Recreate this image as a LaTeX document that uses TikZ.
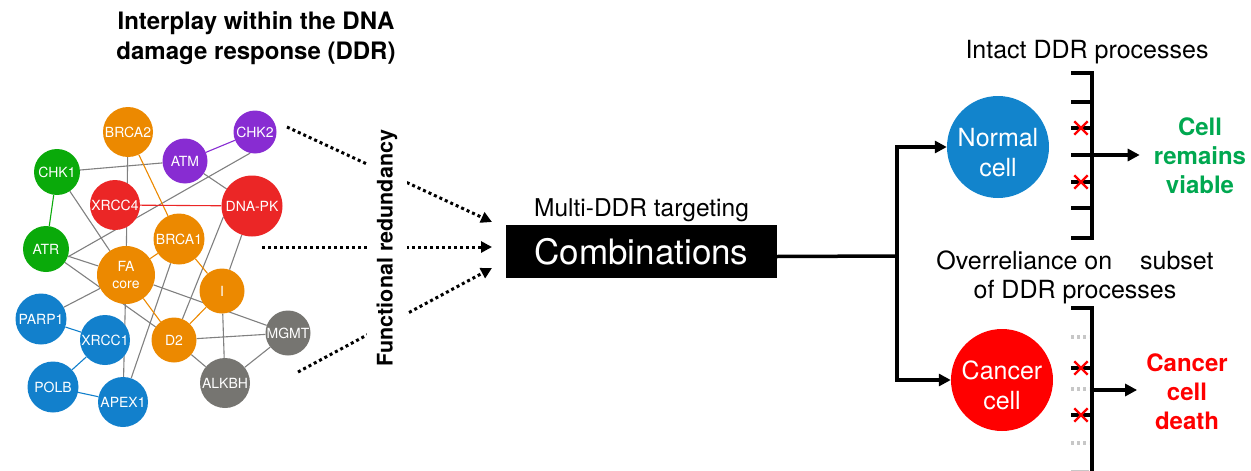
\documentclass[tikz,border=0pt]{standalone}
\usepackage{fontspec}
\setmainfont{TeX Gyre Heros}
\usetikzlibrary{positioning,arrows.meta,shapes.misc,backgrounds}

\definecolor{ddrorange}{RGB}{236,137,0}
\definecolor{ddrpurple}{RGB}{136,44,210}
\definecolor{ddrgreen}{RGB}{10,170,10}
\definecolor{ddrred}{RGB}{235,38,38}
\definecolor{ddrblue}{RGB}{18,128,204}
\definecolor{ddrgray}{RGB}{118,117,113}
\definecolor{cellblue}{RGB}{18,132,204}
\definecolor{viablegreen}{RGB}{0,168,80}

\tikzset{
  gene/.style={circle, fill=#1, text=white, inner sep=0pt, align=center,
    font=\fontsize{14}{16.5}\selectfont},
  link/.style={draw=black!50, line width=1.1pt},
  cell/.style={circle, fill=#1, text=white, inner sep=0pt, minimum size=102pt,
    align=center, text height=60pt, font=\fontsize{25}{30}\selectfont},
  big/.style={align=center, font=\fontsize{25}{29}\selectfont},
  outcome/.style={align=center, font=\fontsize{24}{29}\selectfont\bfseries},
  flow/.style={line width=3.5pt, line join=miter},
  flowarrow/.style={flow, -{Triangle[length=12pt,width=12pt]}},
  redarrow/.style={line width=3pt, dash pattern=on 3pt off 3pt,
    -{Triangle[length=11pt,width=11pt]}},
  skiptick/.style={line width=3.5pt, draw=black!22, dash pattern=on 3pt off 3pt},
  xmark/.style={cross out, draw=red, line width=2.4pt, minimum size=11pt, inner sep=0pt},
}

\begin{document}
\begin{tikzpicture}[x=1pt, y=-1pt]
  \useasboundingbox (0,0) rectangle (1251,471);

  % Title
  \node[font=\fontsize{24}{30}\selectfont\bfseries, align=center] (ttl) at (256,38)
    {Interplay within the DNA\\damage response (DDR)};

  % Nodes
  \node[gene=ddrorange, minimum size=50pt] (brca2) at (128,132) {BRCA2};
  \node[gene=ddrpurple, minimum size=43pt] (chk2) at (255,132) {CHK2};
  \node[gene=ddrpurple, minimum size=45pt] (atm) at (185,161) {ATM};
  \node[gene=ddrgreen, minimum size=46pt] (chk1) at (57,172) {CHK1};
  \node[gene=ddrred, minimum size=50pt] (xrcc4) at (115,205) {XRCC4};
  \node[gene=ddrred, minimum size=61pt] (dnapk) at (252,206) {DNA-PK};
  \node[gene=ddrgreen, minimum size=46pt] (atr) at (46,249) {ATR};
  \node[gene=ddrorange, minimum size=51pt] (brca1) at (179,239) {BRCA1};
  \node[gene=ddrorange, minimum size=58pt] (fa) at (126,275) {FA\\core};
  \node[gene=ddrorange, minimum size=45pt] (fi) at (222,291) {I};
  \node[gene=ddrblue, minimum size=51pt] (parp1) at (41,319) {PARP1};
  \node[gene=ddrblue, minimum size=50pt] (xrcc1) at (105,340) {XRCC1};
  \node[gene=ddrorange, minimum size=45pt] (d2) at (174,340) {D2};
  \node[gene=ddrgray, minimum size=45pt] (mgmt) at (288,333) {MGMT};
  \node[gene=ddrblue, minimum size=51pt] (polb) at (53,387) {POLB};
  \node[gene=ddrblue, minimum size=50pt] (apex1) at (123,402) {APEX1};
  \node[gene=ddrgray, minimum size=50pt] (alkbh) at (225,383) {ALKBH};

  % Edges
  \begin{scope}[on background layer]
    \draw[link] (chk1) -- (atm);
    \draw[link, draw=ddrgreen] (chk1) -- (atr);
    \draw[link] (chk1) -- (fa);
    \draw[link] (atr.-20) -- (chk2.-103);
    \draw[link] (atr) -- (fa);
    \draw[link] (atr) -- (d2);
    \draw[link] (brca2) -- (fa);
    \draw[link, draw=ddrorange] (brca2) -- (brca1);
    \draw[link, draw=ddrred] (xrcc4) -- (dnapk);
    \draw[link, draw=ddrpurple] (atm) -- (chk2);
    \draw[link] (atm) -- (dnapk);
    \draw[link] (dnapk.201) -- (d2);
    \draw[link] (dnapk) -- (fi);
    \draw[link, draw=ddrorange] (brca1) -- (fa);
    \draw[link, draw=ddrorange] (brca1) -- (fi);
    \draw[link] (brca1) -- (apex1);
    \draw[link] (fa) -- (mgmt);
    \draw[link, draw=ddrorange] (fa) -- (d2);
    \draw[link] (fa) -- (parp1);
    \draw[link] (fa) -- (apex1);
    \draw[link, draw=ddrorange] (fi) -- (d2);
    \draw[link] (fi) -- (alkbh);
    \draw[link] (d2) -- (mgmt);
    \draw[link] (d2) -- (alkbh);
    \draw[link] (mgmt) -- (alkbh);
    \draw[link, draw=ddrblue] (parp1) -- (xrcc1);
    \draw[link, draw=ddrblue] (xrcc1) -- (polb);
    \draw[link, draw=ddrblue] (polb) -- (apex1);
  \end{scope}

  % Combinations
  \node[fill=black, text=white, minimum width=271pt, minimum height=53pt, inner sep=0pt,
    font=\fontsize{35}{40}\selectfont] (comb) at (641.5,251.5) {Combinations};
  \node[above=0pt of comb, inner sep=2.5pt, font=\fontsize{24.5}{28}\selectfont] (multi)
    {Multi-DDR targeting};

  % Redundancy arrows
  \coordinate (a1) at (287,127);
  \coordinate (a2) at (262,247);
  \coordinate (a3) at (298,372);
  \coordinate (b1) at (492,222);
  \coordinate (b2) at (492,247);
  \coordinate (b3) at (492,268);
  \draw[redarrow] (a1) -- (b1);
  \draw[redarrow] (a2) -- (b2);
  \draw[redarrow] (a3) -- (b3);
  \node[rotate=90, fill=white, inner xsep=0pt, inner ysep=10pt,
    font=\fontsize{21.5}{24}\selectfont\bfseries] (fr) at (387,248) {Functional redundancy};

  % Cells
  \node[cell=cellblue] (normal) at (998,147) {Normal\\cell};
  \node[cell=red] (cancer) at (1002,380) {Cancer\\cell};
  \coordinate (br) at (897,256);
  \draw[flow] ([yshift=-5pt]comb.east) -- (br);
  \draw[flowarrow] (br) |- (normal);
  \draw[flowarrow] (br) |- (cancer);

  % Intact processes
  \node[big] (intact) at (1087,52) {Intact DDR processes};
  \draw[flow] (1071,73) -- (1092,73) -- (1092,238) -- (1071,238);
  \draw[flow] (1071,102) -- (1092,102);
  \draw[flow] (1071,128) -- (1092,128);
  \draw[flow] (1071,155) -- (1092,155);
  \draw[flow] (1071,182) -- (1092,182);
  \draw[flow] (1071,208) -- (1092,208);
  \node[xmark] (x1) at (1081,128) {};
  \node[xmark] (x2) at (1081,182) {};
  \coordinate (nb) at (1092,155);
  \node[outcome, text=viablegreen, inner xsep=14pt] (viable) at (1200,156) {Cell\\remains\\viable};
  \draw[flowarrow] (nb) -- (nb -| viable.west);

  % Overreliance
  \node[big] (over) at (1075,277) {Overreliance on\hspace{21pt} subset\\of DDR processes};
  \draw[flow] (1071,308) -- (1092,308) -- (1092,474);
  \draw[skiptick] (1071,337) -- (1089,337);
  \draw[flow] (1071,368) -- (1092,368);
  \draw[skiptick] (1071,389) -- (1089,389);
  \draw[flow] (1071,415) -- (1092,415);
  \draw[skiptick] (1071,443) -- (1089,443);
  \draw[line width=3pt, draw=black!22] (1071,471) -- (1089,471);
  \node[xmark] (x3) at (1081,368) {};
  \node[xmark] (x4) at (1081,415) {};
  \coordinate (cb) at (1092,390);
  \node[outcome, text=red, inner xsep=9pt] (death) at (1187,392) {Cancer\\cell\\death};
  \draw[flowarrow] (cb) -- (cb -| death.west);
\end{tikzpicture}
\end{document}
